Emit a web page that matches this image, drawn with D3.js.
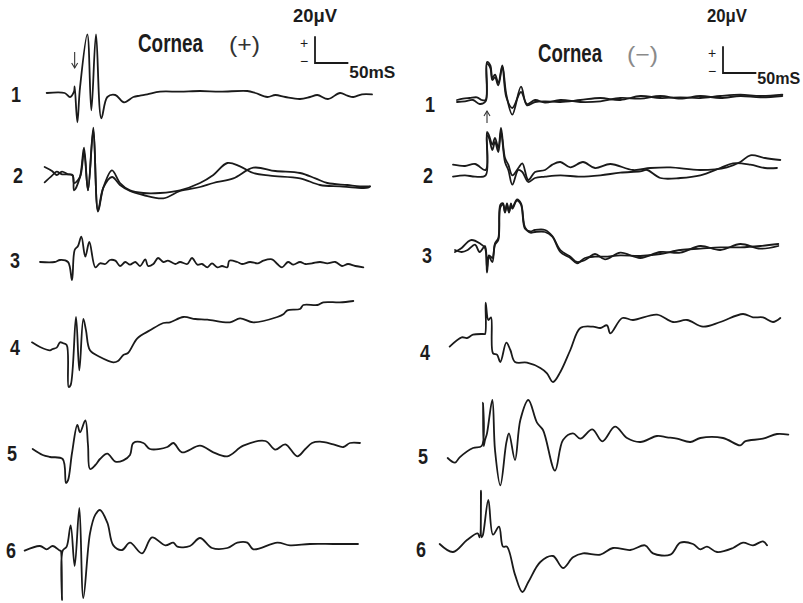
<!DOCTYPE html>
<html><head><meta charset="utf-8">
<script src="https://cdn.jsdelivr.net/npm/d3@7"></script>
<style>
html,body{margin:0;padding:0;background:#fff;}
svg{display:block;}
.lab{font-family:"Liberation Sans","Roboto",sans-serif;fill:#1c1c1c;}
</style></head>
<body>
<script>
// ---- DATA: [time (ms, 0 = stimulus marker), amplitude (µV)] ----
const rowLabels = ["1","2","3","4","5","6"];
const titles = ["Cornea", "Cornea"];
const polarity = ["(+)", "(\u2212)"];
const scaleV = "20\u03bcV", scaleT = "50mS";
const scaleBarUV = 20, scaleBarMS = 50;

// Cornea (+) panel
const plus1 = [[-44,0],[-17,0],[-9,-3],[-3,1],[-2,5],[2,-22],[6,4],[17,44],[23,-13],[30,44],[38,-19],[47,-3],[59,-1.5],[72,-7],[86,-3],[96,-2],[107,-1],[126,1],[156,1],[186,1.5],[216,1],[257,1.5],[269,0],[287,-3],[299,-1.5],[314,-3],[336,-4.5],[351,-3],[362,-1.5],[378,-4.5],[396,0],[407,-2],[416,-3],[429,-1],[444,-1]];
const plus2a = [[-47,4.5],[-36,1.5],[-29,-1.5],[-21,1],[-12,-1],[-5,-1.5],[-3,-13],[6,-3],[12,19],[18,-13],[26,34],[33,-29],[41,-11],[54,2],[66,-7.5],[81,-13],[101,-15],[126,-15],[156,-13],[186,-7.5],[206,-1.5],[227,7.5],[246,5],[266,0],[291,-2],[336,-4],[366,-9],[396,-10],[419,-11],[438,-11],[441,-10]];
const plus2b = [[-47,-7],[-36,-2],[-29,1],[-21,-1],[-12,-1],[-5,-2],[-3,-7.5],[6,-3],[12,16],[18,-13],[26,32],[33,-28],[41,-11],[54,-3],[66,-9],[81,-13.5],[101,-16.5],[131,-19],[156,-13.5],[186,-10.5],[206,-7.5],[236,-4],[266,4],[299,1.5],[336,0],[359,-4],[377,-7.5],[407,-9],[426,-10],[441,-10]];
const plus3 = [[-54,0],[-32,0],[-24,1.5],[-12,0],[-6,-13.5],[-2,9],[3,12],[8,19],[14,4],[20,15],[29,-4],[36,-1],[44,-1.5],[51,1.5],[59,1],[66,-3],[74,0],[81,-2],[89,0],[96,-3],[104,2],[108,-3],[116,-1.5],[123,3],[131,0],[138,1],[149,-1.5],[156,0],[167,-1.5],[174,3],[182,-2],[189,-1.5],[197,-4],[204,-1],[212,-4],[219,-3],[227,-4],[230,1],[242,0],[249,-1.5],[261,0],[273,-1],[281,1],[294,2],[302,-1.5],[309,-4],[318,0],[326,-2],[336,0],[344,-1.5],[354,-1],[366,0],[377,-1],[389,0],[399,-3],[408,-1.5],[419,-3],[431,-4]];
const plus4 = [[-66,2],[-54,-1.5],[-39,-4],[-35,-3],[-29,-2],[-24,2],[-20,1.5],[-14,0],[-11,-31.5],[-8,-30],[0,21],[5,-19],[11,19.5],[15,11],[21,-4],[36,-9],[56,-13],[63,-12],[71,-7.5],[78,-6],[92,5],[111,11],[131,16.5],[141,17],[161,21],[179,19.5],[197,19],[231,17],[246,20],[266,17],[302,21],[311,23],[317,26],[336,27],[341,30],[362,30],[371,32],[396,32],[416,33]];
const plus5 = [[-65,4.5],[-50,0],[-39,-1.5],[-20,-3],[-15,-21],[-12,-19],[-6,1.5],[2,22.5],[6,17],[14,26],[18,7.5],[21,-10.5],[29,-7.5],[36,-3],[47,1],[59,-5],[71,-4],[81,0],[86,9],[101,9],[111,4.5],[137,6],[146,9],[159,2],[186,7],[206,2],[227,-1],[251,7],[284,10.5],[299,4],[314,8],[332,-1],[344,4.5],[354,9],[366,10],[386,8],[401,6],[411,9],[426,9]];
const plus6 = [[-77,-2],[-54,1.5],[-44,-1],[-35,1.5],[-24,-2],[-23,-2],[-21,-39],[-20,-2],[-14,1],[-8,17],[-2,-13.5],[5,30],[11,-37.5],[21,11],[29,25],[36,28.5],[47,19],[56,2],[69,-1.5],[81,4],[99,-4],[114,8],[134,2],[146,4],[152,1],[171,1.5],[186,7.5],[204,0],[227,0],[242,4],[257,4],[266,-1],[302,4],[321,2],[351,3],[386,3],[423,3]];

// Cornea (-) panel
const minus1a = [[-45,0],[-36,1],[-26,1.5],[-15,2],[-8,0],[-2,0],[0,28.5],[5,26],[8,16.5],[12,19],[17,13],[23,26],[29,4],[38,-11],[51,10],[60,-4],[72,-1.5],[87,-1],[110,-1.5],[140,0],[170,1.5],[200,0],[230,3],[260,1.5],[290,2],[320,1.5],[350,3],[380,4],[410,3],[443,4]];
const minus1b = [[-45,-1.5],[-33,-1],[-21,0],[-11,-3],[-2,-1],[0,27],[5,24],[8,15],[12,17],[17,11],[23,25],[29,2],[38,-6],[51,6],[60,-3],[72,0],[87,-2],[110,0],[140,-1.5],[170,-1],[200,1.5],[230,1],[260,3],[290,1],[320,3],[350,1.5],[380,3],[410,2],[443,3]];
const minus2a = [[-51,4],[-33,3],[-18,4.5],[-2,0],[0,28.5],[3,26],[8,19],[12,24],[17,16.5],[21,31.5],[27,9],[32,4],[38,-4],[47,1.5],[53,5],[62,-7.5],[72,-1.5],[87,0],[98,4],[110,6],[125,2],[144,6],[162,1.5],[185,4.5],[219,0],[245,1.5],[275,2],[320,0],[360,2],[380,6],[395,11],[417,9],[440,7.5]];
const minus2b = [[-51,-5],[-33,-4],[-18,-5],[-2,-4],[0,26],[3,24],[8,15],[12,21],[17,13.5],[21,28.5],[27,6],[32,0],[38,-11],[47,0],[53,-1.5],[62,-9],[72,-6],[87,-5],[110,-4],[140,-5],[170,-4],[200,-2],[230,-1],[240,0],[260,-6],[290,-6],[320,-4],[350,1.5],[369,5],[395,4],[417,1.5],[435,1.5]];
const minus3a = [[-48,-1.5],[-38,1.5],[-29,6],[-23,7.5],[-11,5],[-3,1.5],[0,-17],[3,-5],[8,-9],[12,5],[17,9],[20,34],[24,35],[27,28.5],[30,35],[33,28.5],[36,35],[38,31.5],[45,38],[51,35],[57,17],[65,13],[72,13.5],[87,13.5],[98,10],[110,-1.5],[125,-6],[135,-10],[147,-6],[162,-5],[177,-5],[200,-4],[230,-4.5],[260,-3],[290,0],[320,1],[350,2],[380,2],[410,3],[437,4.5]];
const minus3b = [[-48,0],[-38,-1.5],[-29,0],[-18,4],[-11,-1.5],[-3,3],[0,-13.5],[3,-4],[8,-6],[12,4],[17,7.5],[20,32],[24,34],[27,28],[30,34],[33,28],[36,34],[38,31],[45,37],[51,34],[57,16],[65,14],[72,15],[87,15],[98,10.5],[110,0],[125,-5],[135,-9],[147,-7.5],[162,-3],[177,-7],[200,-2],[230,-6],[260,-1.5],[290,-2],[320,3],[350,0],[380,4.5],[410,1],[437,3]];
const minus4 = [[-56,-8],[-38,-1],[-30,-1.5],[-21,1],[-6,1.5],[-3,1.5],[-2,25],[2,12],[6,14],[9,-13],[15,-14],[20,-19.5],[29,-5],[35,-10.5],[42,-19.5],[60,-20],[80,-24],[90,-28],[99,-34.5],[110,-27],[125,-10.5],[140,6],[159,7],[170,6],[180,8],[185,2],[203,13.5],[219,12],[255,16],[279,10.5],[300,12],[324,7],[350,10.5],[384,16.5],[399,14],[414,14],[429,10.5],[440,13.5]];
const minus5 = [[-59,-7.5],[-48,-11],[-41,-7],[-21,0],[-8,1.5],[-6,34],[-5,1.5],[-3,6],[0,11],[8,36],[12,-1.5],[20,-28],[29,4],[33,11],[42,-9],[50,21],[62,36],[75,19],[84,13.5],[102,-17],[114,6],[129,11],[140,7],[158,14],[173,5],[192,16],[210,7.5],[230,4.5],[255,9],[270,8],[285,7],[305,4.5],[320,7.5],[354,7.5],[380,2],[387,5],[414,7],[435,10.5],[452,10]];
const minus6 = [[-71,-3],[-51,-9],[-30,0],[-14,5],[-11,2],[-9,37],[-8,2],[-6,4],[2,30],[9,4],[18,10],[24,-5],[30,-5],[42,-26],[53,-39],[62,-31.5],[80,-16.5],[99,-12],[114,-21],[129,-13],[144,-10],[170,-11],[189,-6],[215,-7.5],[237,-4],[249,-10],[275,-11],[290,-2],[309,-3],[320,-7],[330,-5],[345,-9],[369,-6],[384,-2],[399,-4],[414,-1],[420,-4]];

// ---- LAYOUT ----
const W = 803, H = 603;
const svg = d3.select("body").append("svg").attr("width", W).attr("height", H);

const panels = [
  { x0: 76, rows: [93,173,262,345,455,548], labelX: [16,18,15,15,12,11], labelY: [102,183,268,355,461,558],
    traces: [[plus1],[plus2a,plus2b],[plus3],[plus4],[plus5],[plus6]],
    title: {x:138, y:52, w:65}, pol: {x:229, y:52, w:31, fill:"#333"},
    bar: {x:315, y:63}, vtxt:{x:293,y:22,w:44}, ttxt:{w:46, dy:15}, arrow:{t:-2, y1:52, y2:68, dir:"down"} },
  { x0: 487, rows: [100,170,250,336,448,540], labelX: [430,428,427,425,423,421], labelY: [112,183,263,360,464,557],
    traces: [[minus1a,minus1b],[minus2a,minus2b],[minus3a,minus3b],[minus4],[minus5],[minus6]],
    title: {x:538, y:62, w:64}, pol: {x:627, y:62, w:31, fill:"#8a8a8a"},
    bar: {x:723, y:73}, vtxt:{x:707,y:22,w:40}, ttxt:{w:43, dy:11}, arrow:{t:0, y1:123, y2:111, dir:"up"} }
];

const pxPerMs = 1/1.5, pxPerUV = 1/0.75;

function label(g, x, y, str, size, width, opts = {}) {
  const t = g.append("text").attr("class","lab").attr("x", x).attr("y", y)
    .attr("font-size", size).text(str);
  if (width) t.attr("textLength", width).attr("lengthAdjust","spacingAndGlyphs");
  if (opts.anchor) t.attr("text-anchor", opts.anchor);
  if (opts.weight) t.attr("font-weight", opts.weight);
  t.style("fill", opts.fill || "#1c1c1c");
  return t;
}

panels.forEach((p, pi) => {
  const x = d3.scaleLinear().domain([0, 300]).range([p.x0, p.x0 + 300*pxPerMs]);
  const g = svg.append("g");
  p.rows.forEach((base, ri) => {
    const y = d3.scaleLinear().domain([0, 30]).range([base, base - 30*pxPerUV]);
    const line = d3.line().x(d => x(d[0])).y(d => y(d[1])).curve(d3.curveCatmullRom.alpha(0.5));
    p.traces[ri].forEach(tr => {
      g.append("path").datum(tr).attr("d", line)
        .attr("fill","none").attr("stroke","#1a1a1a").attr("stroke-width",1.8)
        .attr("stroke-linejoin","round").attr("stroke-linecap","round");
    });
    label(g, p.labelX[ri] - 5, p.labelY[ri], rowLabels[ri], 22, 10, {weight:"bold"});
  });

  // title
  label(g, p.title.x, p.title.y, titles[pi], 26, p.title.w, {weight:"bold"});
  label(g, p.pol.x, p.pol.y, polarity[pi], 22, p.pol.w, {fill:p.pol.fill});

  // scale bar: 20 µV vertical, 50 ms horizontal, via scales
  const yb = d3.scaleLinear().domain([0, 30]).range([p.bar.y, p.bar.y - 30*pxPerUV]);
  const xb = d3.scaleLinear().domain([0, 300]).range([p.bar.x, p.bar.x + 300*pxPerMs]);
  g.append("path").attr("d", `M${xb(0)},${yb(scaleBarUV)}L${xb(0)},${yb(0)}L${xb(scaleBarMS)},${yb(0)}`)
    .attr("fill","none").attr("stroke","#1a1a1a").attr("stroke-width",1.8);
  label(g, p.vtxt.x, p.vtxt.y, scaleV, 18, p.vtxt.w, {weight:"bold"});
  label(g, xb(0) - 11, yb(scaleBarUV) + 12, "+", 14, null, {anchor:"middle"});
  label(g, xb(0) - 11, yb(0) + 3, "\u2212", 14, null, {anchor:"middle"});
  label(g, xb(scaleBarMS) + 1, yb(0) + p.ttxt.dy, scaleT, 17, p.ttxt.w, {weight:"bold"});

  // stimulus arrow
  const ax = x(p.arrow.t);
  g.append("line").attr("x1", ax).attr("x2", ax).attr("y1", p.arrow.y1).attr("y2", p.arrow.y2)
    .attr("stroke","#333").attr("stroke-width",1.1);
  const hd = p.arrow.dir === "down" ? 1 : -1;
  g.append("path").attr("d", `M${ax-3},${p.arrow.y2-5*hd}L${ax},${p.arrow.y2}L${ax+3},${p.arrow.y2-5*hd}`)
    .attr("fill","none").attr("stroke","#333").attr("stroke-width",1.1);
});
</script>
</body></html>
